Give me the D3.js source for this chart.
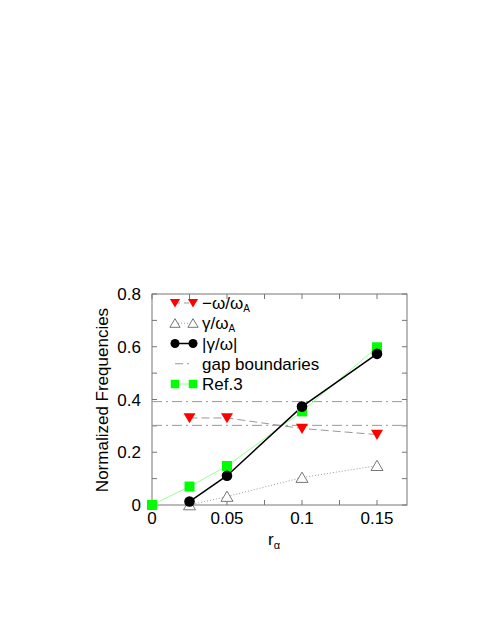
<!DOCTYPE html>
<html lang="en">
<meta charset="utf-8">
<style>
body { margin: 0; background: #fff; }
text { font-family: "Liberation Sans", Arial, sans-serif; fill: #000; }
</style>
<body>
<svg width="491" height="635"></svg>
<script src="https://d3js.org/d3.v7.min.js"></script>
<script>

var rA = [0.025, 0.05, 0.1, 0.15];
var omega = [0.33, 0.33, 0.29, 0.267];
var gamma = [0.0, 0.032, 0.104, 0.149];
var ratio = [0.013, 0.111, 0.373, 0.573];
var refR = [0, 0.025, 0.05, 0.1, 0.15];
var ref3 = [0.0, 0.07, 0.148, 0.355, 0.598];
var gaps = [0.392, 0.302];
var xTicks = [0, 0.05, 0.1, 0.15];
var yTicks = [0, 0.2, 0.4, 0.6, 0.8];

var svg = d3.select("svg");

var x = d3.scaleLinear().domain([0, 0.17]).range([152, 407]);
var y = d3.scaleLinear().domain([0, 0.8]).range([505, 294]);

var frame = svg.append("g");
frame.append("rect")
    .attr("x", x(0)).attr("y", y(0.8))
    .attr("width", x(0.17) - x(0)).attr("height", y(0) - y(0.8))
    .attr("fill", "none").attr("stroke", "#777").attr("stroke-width", 1);

// ticks on all sides, pointing inward
var xAll = d3.range(0, 0.17, 0.025), yAll = d3.range(0, 0.81, 0.1);
xAll.forEach(function(v) {
  frame.append("line").attr("x1", x(v)).attr("x2", x(v)).attr("y1", y(0)).attr("y2", y(0) - 5).attr("stroke", "#777");
  frame.append("line").attr("x1", x(v)).attr("x2", x(v)).attr("y1", y(0.8)).attr("y2", y(0.8) + 5).attr("stroke", "#777");
});
yAll.forEach(function(v) {
  frame.append("line").attr("y1", y(v)).attr("y2", y(v)).attr("x1", x(0)).attr("x2", x(0) + 5).attr("stroke", "#777");
  frame.append("line").attr("y1", y(v)).attr("y2", y(v)).attr("x1", x(0.17)).attr("x2", x(0.17) - 5).attr("stroke", "#777");
});

svg.selectAll(".xl").data(xTicks).enter().append("text")
    .attr("x", function(d) { return x(d); }).attr("y", 524)
    .attr("text-anchor", "middle").attr("font-size", 17)
    .text(function(d) { return d; });
svg.selectAll(".yl").data(yTicks).enter().append("text")
    .attr("x", 141).attr("y", function(d) { return y(d) + 6; })
    .attr("text-anchor", "end").attr("font-size", 17)
    .text(function(d) { return d; });

svg.append("text")
    .attr("transform", "translate(108,400) rotate(-90)")
    .attr("text-anchor", "middle").attr("font-size", 17)
    .text("Normalized Frequencies");
var xt = svg.append("text").attr("x", 268).attr("y", 545).attr("font-size", 17);
xt.append("tspan").text("r");
xt.append("tspan").attr("font-size", 11).attr("dy", 4).text("\u03b1");

// gap boundaries
svg.selectAll(".gap").data(gaps).enter().append("line")
    .attr("x1", x(0)).attr("x2", x(0.17))
    .attr("y1", function(d) { return y(d); }).attr("y2", function(d) { return y(d); })
    .attr("stroke", "#999").attr("stroke-dasharray", "10,4,2,4");

var line = d3.line().x(function(d) { return x(d[0]); }).y(function(d) { return y(d[1]); });

function tri(cx, cy, down, s) {
  return down
    ? "M" + (cx - s) + "," + (cy - s * 0.8) + "L" + (cx + s) + "," + (cy - s * 0.8) + "L" + cx + "," + (cy + s * 0.9) + "Z"
    : "M" + (cx - s) + "," + (cy + s * 0.8) + "L" + (cx + s) + "," + (cy + s * 0.8) + "L" + cx + "," + (cy - s * 0.9) + "Z";
}

var series = [
  { name: "om", xs: rA, ys: omega, stroke: "#999", dash: "8,4", width: 1 },
  { name: "ga", xs: rA, ys: gamma, stroke: "#999", dash: "1,2", width: 1 },
  { name: "ref", xs: refR, ys: ref3, stroke: "#9f9", dash: null, width: 1 },
  { name: "ra", xs: rA, ys: ratio, stroke: "#000", dash: null, width: 1.5 }
];

series.forEach(function(s) {
  svg.append("path")
      .datum(s.xs.map(function(v, i) { return [v, s.ys[i]]; }))
      .attr("d", line).attr("fill", "none")
      .attr("stroke", s.stroke).attr("stroke-width", s.width)
      .attr("stroke-dasharray", s.dash);
});

function drawMarker(g, kind, cx, cy, k) {
  k = k || 1;
  if (kind === "om") g.append("path").attr("d", tri(cx, cy, true, 6 * k)).attr("fill", "#f00");
  else if (kind === "ga") g.append("path").attr("d", tri(cx, cy, false, 6 * k)).attr("fill", "#fff").attr("stroke", "#777");
  else if (kind === "ra") g.append("circle").attr("cx", cx).attr("cy", cy).attr("r", 5.3 * k).attr("fill", "#000");
  else if (kind === "ref") g.append("rect").attr("x", cx - 5 * k).attr("y", cy - 5 * k).attr("width", 10 * k).attr("height", 10 * k).attr("fill", "#0f0");
}

var marks = svg.append("g");
series.forEach(function(s) {
  s.xs.forEach(function(v, i) { drawMarker(marks, s.name, x(v), y(s.ys[i])); });
});

// legend
var legend = [
  { kind: "om", stroke: "#999", dash: "5,4", label: ["\u2212\u03c9/\u03c9", "A"] },
  { kind: "ga", stroke: "#999", dash: "1,2", label: ["\u03b3/\u03c9", "A"] },
  { kind: "ra", stroke: "#000", dash: null, label: ["|\u03b3/\u03c9|"] },
  { kind: "gap", stroke: "#999", dash: "8,4,2,4", label: ["gap boundaries"] },
  { kind: "ref", stroke: "#9f9", dash: null, label: ["Ref.3"] }
];
var ly = d3.scaleLinear().domain([0, 4]).range([303, 384]);
legend.forEach(function(l, i) {
  var yy = ly(i);
  svg.append("line").attr("x1", 175).attr("x2", 193).attr("y1", yy).attr("y2", yy)
      .attr("stroke", l.stroke).attr("stroke-width", l.kind === "ra" ? 1.5 : 1)
      .attr("stroke-dasharray", l.dash);
  if (l.kind !== "gap") { drawMarker(svg, l.kind, 175, yy, 0.85); drawMarker(svg, l.kind, 193, yy, 0.85); }
  var t = svg.append("text").attr("x", 202).attr("y", yy + 6).attr("font-size", 17);
  t.append("tspan").text(l.label[0]);
  if (l.label[1]) t.append("tspan").attr("font-size", 10).attr("dy", 3).text(l.label[1]);
});

</script>
</body>
</html>
